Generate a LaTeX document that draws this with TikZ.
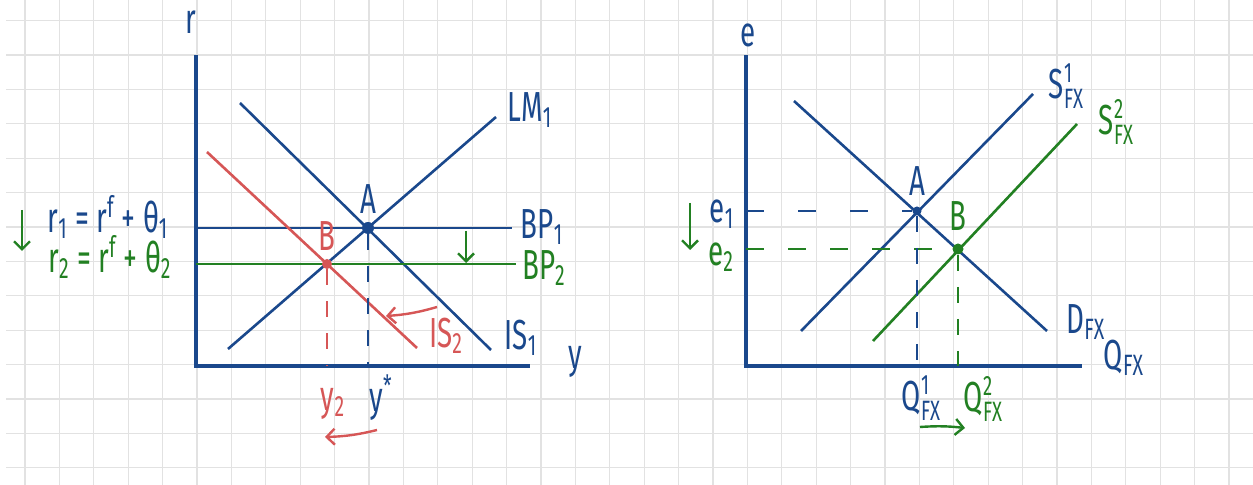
\documentclass[tikz,border=0pt]{standalone}
\usepackage{fontspec}
\setmainfont{Fira Sans}[FakeStretch=0.66]
\definecolor{inkblue}{RGB}{26,72,140}
\definecolor{inkgreen}{RGB}{34,128,34}
\definecolor{inkred}{RGB}{214,86,86}
\definecolor{gridgray}{RGB}{226,226,226}
\usetikzlibrary{arrows.meta,positioning,calc}

% letter with a stacked super- and subscript
\newcommand{\supsub}[3]{#1\raisebox{-5pt}{\fontsize{14}{14}\selectfont\shortstack[l]{#2\\#3}}}

\tikzset{
  gridline/.style={gridgray, line width=0.6pt},
  axisline/.style={line width=1.6pt},
  curve/.style={line width=1.3pt},
  guide/.style={line width=1.3pt, dash pattern=on 8pt off 8pt},
  dot/.style={circle, fill, inner sep=0pt, minimum size=5pt},
  lbl/.style={font=\fontsize{21}{24}\selectfont, inner sep=1pt},
  shiftarrow/.style={line width=1.2pt, -{Straight Barb[length=4pt,width=8pt]}},
}

\begin{document}
\begin{tikzpicture}[x=0.5pt, y=-0.5pt]
% squared paper
\useasboundingbox (0,0) rectangle (1253,485);
\fill[white] (0,0) rectangle (1253,485);
\foreach \i in {0,...,35}
  \draw[gridline] (25+34.4*\i,0) -- (25+34.4*\i,485);
\foreach \j in {0,...,13}
  \draw[gridline] (6,20.7+34.4*\j) -- (1253,20.7+34.4*\j);

% ---- left panel: IS-LM-BP
\coordinate (O1) at (196,366);
\coordinate (rtop) at (196,55);
\coordinate (yend) at (530,366);
\draw[axisline, inkblue] (rtop) -- (O1) -- (yend);
\node[lbl, inkblue] (rlab) at (191,22) {r};
\node[lbl, inkblue] (ylab) at (575,362) {y};

\coordinate (lm1a) at (228,349);
\coordinate (lm1b) at (496,117);
\coordinate (is1a) at (240,103);
\coordinate (is1b) at (491,350);
\coordinate (is2a) at (207,152);
\coordinate (is2b) at (417,348);
\coordinate (bp1b) at (512,228);
\coordinate (bp2b) at (516,264);

\draw[curve, inkblue] (lm1a) -- (lm1b);
\draw[curve, inkblue] (is1a) -- (is1b);
\draw[curve, inkblue] (O1 |- bp1b) -- (bp1b);
\draw[curve, inkgreen] (O1 |- bp2b) -- (bp2b);
\draw[curve, inkred] (is2a) -- (is2b);

\node[dot, inkblue, minimum size=6pt] (A1) at (368,228) {};
\node[dot, inkred] (B1) at (327,264) {};
\draw[guide, inkblue] (A1) -- (A1 |- O1);
\draw[guide, inkred] (B1) -- (B1 |- O1);

\node[lbl, inkblue, above=3pt of A1] (A1lab) {A};
\node[lbl, inkred, above=3pt of B1] (B1lab) {B};
\node[lbl, inkblue] (lm1) at (530,110) {LM\textsubscript{1}};
\node[lbl, inkblue] (bp1) at (542,227) {BP\textsubscript{1}};
\node[lbl, inkgreen] (bp2) at (544,268) {BP\textsubscript{2}};
\node[lbl, inkblue] (is1) at (521,338) {IS\textsubscript{1}};
\node[lbl, inkred] (is2) at (446,336) {IS\textsubscript{2}};
\node[lbl, inkblue] (ystar) at (381,398) {y\textsuperscript{*}};
\node[lbl, inkred] (y2) at (333,404) {y\textsubscript{2}};
\node[lbl, inkblue] (r1) at (108,217) {r\textsubscript{1} = r\textsuperscript{f} + θ\textsubscript{1}};
\node[lbl, inkgreen] (r2) at (110,257) {r\textsubscript{2} = r\textsuperscript{f} + θ\textsubscript{2}};

% shifts
\coordinate (bpa) at (466,231);
\coordinate (bpb) at (466,263);
\draw[shiftarrow, inkgreen] (bpa) -- (bpb);
\coordinate (ra) at (22,210);
\coordinate (rb) at (22,251);
\draw[shiftarrow, inkgreen] (ra) -- (rb);
\coordinate (isa) at (437,307);
\coordinate (isb) at (386,316);
\draw[shiftarrow, inkred] (isa) to[bend left=6] (isb);
\coordinate (ya) at (377,430);
\coordinate (yb) at (325,437);
\draw[shiftarrow, inkred] (ya) to[bend left=6] (yb);

% ---- right panel: FX market
\coordinate (O2) at (746,366);
\coordinate (etop) at (746,55);
\coordinate (qend) at (1082,366);
\draw[axisline, inkblue] (etop) -- (O2) -- (qend);
\node[lbl, inkblue] (elab) at (748,35) {e};
\node[lbl, inkblue] (qlab) at (1124,358) {Q\textsubscript{FX}};

\coordinate (s1a) at (801,331);
\coordinate (s1b) at (1033,94);
\coordinate (da) at (794,101);
\coordinate (db) at (1047,331);
\coordinate (s2a) at (873,341);
\coordinate (s2b) at (1077,124);

\draw[curve, inkblue] (s1a) -- (s1b);
\draw[curve, inkblue] (da) -- (db);
\draw[curve, inkgreen] (s2a) -- (s2b);

\node[dot, inkblue, minimum size=4.5pt] (A2) at (917,211) {};
\node[dot, inkgreen, minimum size=5.5pt] (B2) at (958,249) {};
\draw[guide, inkblue, dash pattern=on 9pt off 17pt] (A2 -| O2) -- (A2);
\draw[guide, inkgreen, dash pattern=on 9pt off 12pt] (B2 -| O2) -- (B2);
\draw[guide, inkblue] (A2) -- (A2 |- O2);
\draw[guide, inkgreen] (B2) -- (B2 |- O2);

\node[lbl, inkblue, above=4pt of A2] (A2lab) {A};
\node[lbl, inkgreen, above=5pt of B2] (B2lab) {B};
\node[lbl, inkblue] (e1) at (722,214) {e\textsubscript{1}};
\node[lbl, inkgreen] (e2) at (721,257) {e\textsubscript{2}};
\node[lbl, inkblue] (s1) at (1066,86) {\supsub{S}{1}{FX}};
\node[lbl, inkgreen] (s2) at (1116,122) {\supsub{S}{2}{FX}};
\node[lbl, inkblue] (dfx) at (1086,322) {D\textsubscript{FX}};
\node[lbl, inkblue] (q1) at (921,398) {\supsub{Q}{1}{FX}};
\node[lbl, inkgreen] (q2) at (983,399) {\supsub{Q}{2}{FX}};

% shifts
\coordinate (ea) at (690,203);
\coordinate (eb) at (690,250);
\draw[shiftarrow, inkgreen] (ea) -- (eb);
\coordinate (qa) at (920,427);
\coordinate (qb) at (965,428);
\draw[shiftarrow, inkgreen] (qa) to[bend left=5] (qb);
\end{tikzpicture}
\end{document}
